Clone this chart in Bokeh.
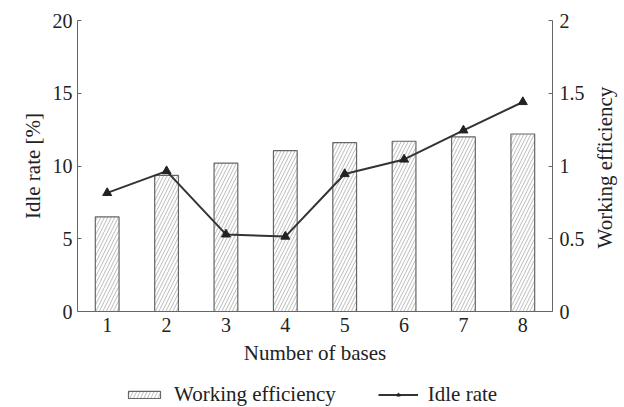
import math
from bokeh.plotting import figure
from bokeh.layouts import column
from bokeh.models import (Range1d, LinearAxis, FixedTicker, CustomJSTickFormatter,
                          Legend, LegendItem)
from bokeh.embed import file_html
from bokeh.resources import INLINE

bases = [1, 2, 3, 4, 5, 6, 7, 8]
efficiency = [0.65, 0.935, 1.02, 1.105, 1.16, 1.17, 1.20, 1.22]
idle_rate = [8.15, 9.65, 5.3, 5.15, 9.45, 10.45, 12.45, 14.4]
left_ticks = [0, 5, 10, 15, 20]
right_ticks = [0, 0.5, 1, 1.5, 2]

FONT = "Liberation Serif"
TXT = "#222222"
AX = "#666666"
BAR = dict(fill_color="white", line_color="#666666", line_width=1.2,
           hatch_pattern="/", hatch_color="#a8a8a8", hatch_scale=7, hatch_weight=0.8)
LINE = dict(line_color="#333333", line_width=2)
MARK = dict(marker="triangle", size=9, fill_color="#222222", line_color="#222222")

p = figure(frame_width=475, frame_height=291,
           x_range=Range1d(0.5, 8.5), y_range=Range1d(0, 20),
           output_backend="svg", toolbar_location=None,
           min_border_left=77, min_border_right=72, min_border_top=20, min_border_bottom=60)
p.extra_y_ranges = {"eff": Range1d(0, 2)}
p.outline_line_color = None
p.grid.visible = False

right = LinearAxis(y_range_name="eff")
p.add_layout(right, "right")

for ax in [p.xaxis[0], p.yaxis[0], right]:
    ax.axis_line_color = AX
    ax.major_tick_line_color = AX
    ax.minor_tick_line_color = None
    ax.major_tick_in = 4
    ax.major_tick_out = 0
    ax.major_label_text_font = FONT
    ax.major_label_text_font_size = "20px"
    ax.major_label_text_color = TXT
    ax.axis_label_text_font = FONT
    ax.axis_label_text_font_size = "21px"
    ax.axis_label_text_font_style = "normal"
    ax.axis_label_text_color = TXT

xa = p.xaxis[0]
xa.ticker = FixedTicker(ticks=bases)
xa.major_tick_in = 0
xa.major_label_standoff = 6
xa.axis_label = "Number of bases"
xa.axis_label_standoff = 6

ya = p.yaxis[0]
ya.ticker = FixedTicker(ticks=left_ticks)
ya.major_label_standoff = 5
ya.axis_label = "Idle rate [%]"
ya.axis_label_standoff = 5

right.ticker = FixedTicker(ticks=right_ticks)
right.formatter = CustomJSTickFormatter(code="return String(tick)")
right.major_label_standoff = 7
right.axis_label_standoff = 0

# label-only right axis so the title reads bottom-to-top
lab_axis = LinearAxis(y_range_name="eff", ticker=FixedTicker(ticks=[]),
                      axis_line_color=None, major_tick_line_color=None,
                      minor_tick_line_color=None, major_tick_in=0, major_tick_out=0,
                      axis_label="\u00a0" * 12 + "Working efficiency", axis_label_standoff=17,
                      axis_label_text_font=FONT, axis_label_text_font_size="21px",
                      axis_label_text_font_style="normal", axis_label_text_color=TXT)
lab_axis.axis_label_orientation = math.pi / 2
lab_axis.axis_label_align = "start"
p.add_layout(lab_axis, "right")

p.vbar(x=bases, top=efficiency, width=0.4, y_range_name="eff", **BAR)
p.line(bases, idle_rate, **LINE)
p.scatter(bases, idle_rate, **MARK)

# legend strip below the chart (same series, kept outside its visible range)
q = figure(width=624, height=36, x_range=Range1d(50, 51), y_range=Range1d(50, 51),
           output_backend="svg", toolbar_location=None, min_border=0)
q.axis.visible = False
q.grid.visible = False
q.outline_line_color = None
qb = q.vbar(x=bases, top=efficiency, width=0.4, **BAR)
ql = q.line(bases, idle_rate, **LINE)
qm = q.scatter(bases, idle_rate, **MARK)

legend = Legend(items=[LegendItem(label="Working efficiency", renderers=[qb]),
                       LegendItem(label="Idle rate", renderers=[ql, qm])],
                location=(47, 0), orientation="horizontal",
                label_text_font=FONT, label_text_font_size="21px", label_text_color=TXT,
                glyph_width=40, glyph_height=9, label_standoff=10, spacing=42,
                padding=0, margin=0, border_line_color=None, background_fill_color=None)
q.add_layout(legend)

layout = column(p, q, spacing=0)
open("out.html", "w").write(file_html(layout, INLINE))
